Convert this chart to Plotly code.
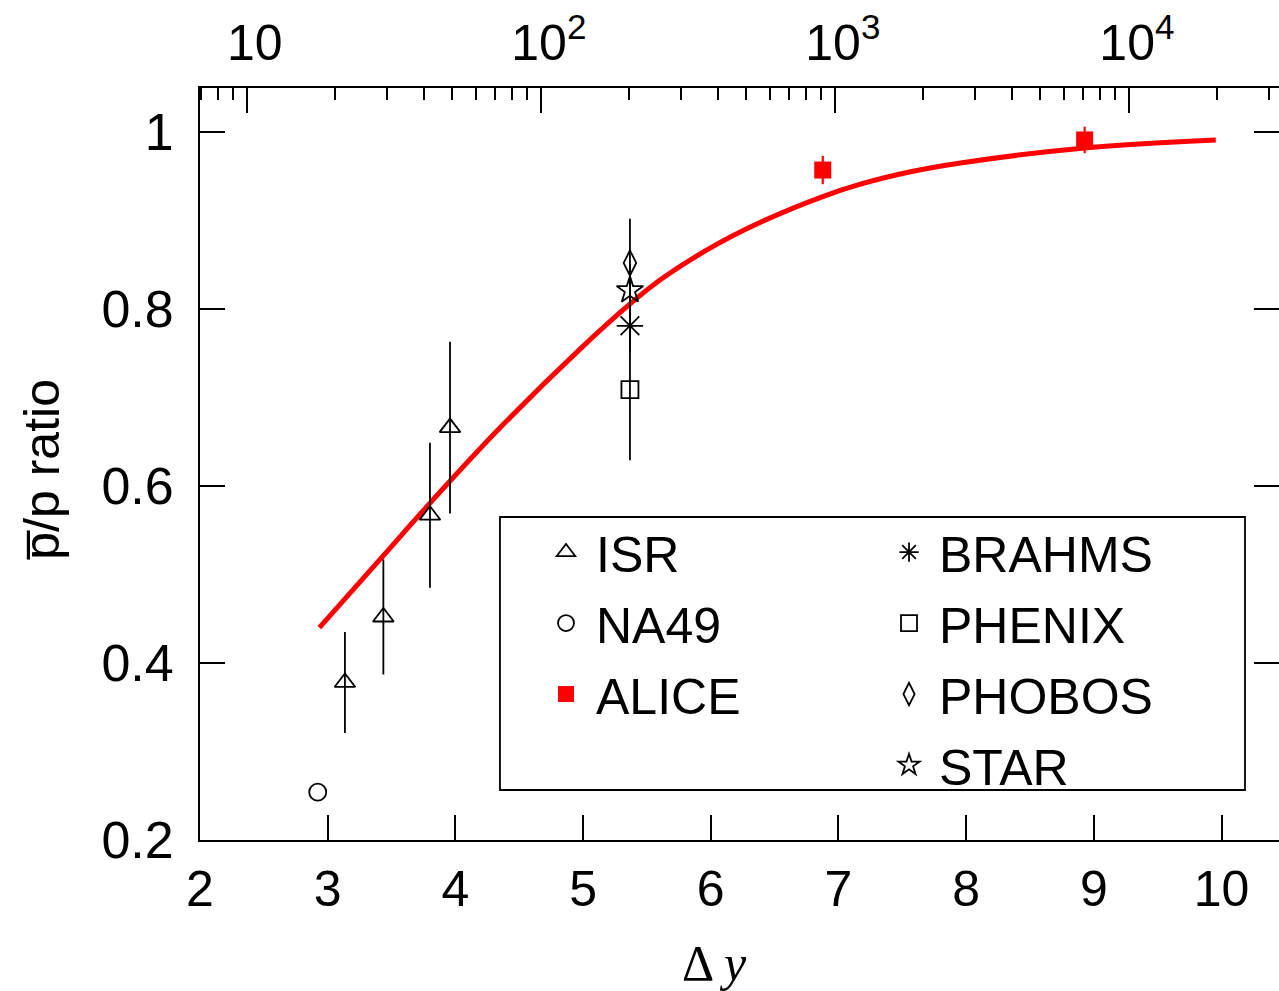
import math
import plotly.graph_objects as go

# ---- data -------------------------------------------------------------
PROTON_MASS = 0.938  # GeV, converts sqrt(s) to the beam rapidity interval

isr_dy = [3.135, 3.436, 3.801, 3.958]
isr_ratio = [0.378, 0.452, 0.567, 0.666]
isr_err = [0.057, 0.065, 0.082, 0.097]

na49_dy = [2.922]
na49_ratio = [0.254]

alice_dy = [6.877, 8.928]
alice_ratio = [0.957, 0.991]
alice_err = [0.016, 0.015]

rhic_dy = 5.367
brahms_ratio = [0.781]
brahms_err = [0.03]
phenix_ratio = [0.709]
phenix_err = [0.08]
phobos_ratio = [0.852]
phobos_err = [0.05]
star_ratio = [0.821]
star_err = [0.03]

fit_dy = [2.935, 3.434, 3.803, 4.351, 4.978, 5.370, 5.605, 5.997,
          6.389, 6.877, 7.172, 7.564, 7.956, 8.928, 9.955]
fit_ratio = [0.440, 0.521, 0.581, 0.666, 0.755, 0.806, 0.833, 0.869,
             0.898, 0.927, 0.941, 0.955, 0.965, 0.982, 0.991]

y_ticks = [0.2, 0.4, 0.6, 0.8, 1.0]
y_ticktext = ["0.2", "0.4", "0.6", "0.8", "1"]
x_ticks = [2, 3, 4, 5, 6, 7, 8, 9, 10]
sqrt_s_major = [10, 100, 1000, 10000]
sqrt_s_text = ["10", "10<sup>2</sup>", "10<sup>3</sup>", "10<sup>4</sup>"]
sqrt_s_minor = [7, 8, 9] + [m * 10 ** d for d in (1, 2, 3) for m in range(2, 10)] + [20000, 30000]

# ---- layout constants -------------------------------------------------
X_RANGE = [2.0, 10.45]
Y_RANGE = [0.2, 1.0497]
TOP_RANGE = [math.log10(PROTON_MASS) + v / math.log(10) for v in X_RANGE]

FONT = "Liberation Sans"
FS = 50
LW = 1.8

fig = go.Figure()

# fit curve
fig.add_trace(go.Scatter(
    x=fit_dy, y=fit_ratio, mode="lines",
    line=dict(color="#ff0000", width=5, shape="spline", smoothing=1.0),
    showlegend=False, hoverinfo="skip"))


def err(vals, color="black", width=LW):
    return dict(type="data", array=vals, visible=True, color=color, thickness=width, width=0)


def open_marker(symbol, size):
    return dict(symbol=symbol, size=size, color="black", line=dict(color="black", width=LW))


def entry(**kw):
    return go.Scatter(mode="markers", legendgroup=kw["name"], **kw)


fig.add_trace(entry(x=isr_dy, y=isr_ratio, name="ISR", error_y=err(isr_err),
                    marker=open_marker("triangle-up-open", 18), legend="legend"))
fig.add_trace(entry(x=na49_dy, y=na49_ratio, name="NA49",
                    marker=open_marker("circle-open", 17), legend="legend"))
fig.add_trace(entry(x=alice_dy, y=alice_ratio, name="ALICE",
                    error_y=err(alice_err, color="#ff0000", width=2.2),
                    marker=dict(symbol="square", size=17, color="#ff0000"), legend="legend"))

fig.add_trace(entry(x=[rhic_dy], y=brahms_ratio, name="BRAHMS", error_y=err(brahms_err),
                    marker=open_marker("asterisk-open", 22), legend="legend2"))
fig.add_trace(entry(x=[rhic_dy], y=phenix_ratio, name="PHENIX", error_y=err(phenix_err),
                    marker=open_marker("square-open", 17), legend="legend2"))
fig.add_trace(entry(x=[rhic_dy], y=phobos_ratio, name="PHOBOS", error_y=err(phobos_err),
                    marker=open_marker("diamond-tall-open", 18), legend="legend2"))
fig.add_trace(entry(x=[rhic_dy], y=star_ratio, name="STAR", error_y=err(star_err),
                    marker=open_marker("star-open", 20), legend="legend2"))

# empty trace that brings the sqrt(s) axis on top and the mirrored right axis into the figure
fig.add_trace(go.Scatter(x=sqrt_s_major, y=[None] * len(sqrt_s_major), xaxis="x2", yaxis="y2",
                         mode="markers", showlegend=False, hoverinfo="skip"))

legend_common = dict(
    orientation="v", font=dict(family=FONT, size=FS, color="black"),
    bgcolor="rgba(0,0,0,0)", borderwidth=0, itemwidth=50, itemsizing="trace",
    tracegroupgap=3, xanchor="left", yanchor="top", traceorder="grouped")

fig.update_layout(
    width=1279, height=991,
    margin=dict(l=200, r=0, t=88, b=151),
    paper_bgcolor="white", plot_bgcolor="white",
    font=dict(family=FONT, size=FS, color="black"),
    legend=dict(x=0.3114, y=0.4348, **legend_common),
    legend2=dict(x=0.6293, y=0.4348, **legend_common),
    xaxis=dict(
        range=X_RANGE, tickvals=x_ticks, ticks="inside", ticklen=25, tickwidth=LW,
        tickcolor="black", showline=True, linecolor="black", linewidth=LW,
        showgrid=False, zeroline=False, ticklabelstandoff=4,
        tickfont=dict(family=FONT, size=FS)),
    xaxis2=dict(
        type="log", range=TOP_RANGE, overlaying="x", anchor="y", side="top",
        tickvals=sqrt_s_major, ticktext=sqrt_s_text, ticks="inside", ticklen=25,
        tickwidth=LW, tickcolor="black", showline=True, linecolor="black",
        linewidth=LW, showgrid=False, zeroline=False, ticklabelstandoff=6,
        ticklabelshift=8, tickfont=dict(family=FONT, size=FS),
        minor=dict(tickmode="array", tickvals=sqrt_s_minor, ticks="inside",
                   ticklen=12, tickwidth=LW, tickcolor="black", showgrid=False)),
    yaxis=dict(
        range=Y_RANGE, tickvals=y_ticks, ticktext=y_ticktext, ticks="inside",
        ticklen=25, tickwidth=LW, tickcolor="black", showline=True,
        linecolor="black", linewidth=LW, showgrid=False, zeroline=False,
        ticklabelstandoff=14, tickfont=dict(family=FONT, size=52)),
    yaxis2=dict(
        range=Y_RANGE, overlaying="y", anchor="x2", side="right", tickvals=y_ticks,
        ticks="inside", ticklen=25, tickwidth=LW, tickcolor="black",
        showticklabels=False, showline=False, showgrid=False, zeroline=False),
    shapes=[dict(type="rect", xref="paper", yref="paper", x0=0.278, x1=0.9685,
                 y0=0.0665, y1=0.4295, line=dict(color="black", width=LW))],
    annotations=[
        dict(text="\u0394 <i>y</i>", xref="paper", yref="paper", x=0.477, y=-0.163,
             xanchor="center", yanchor="middle", showarrow=False,
             font=dict(family="Liberation Serif", size=50, color="black")),
        dict(text="p\u0305/p ratio", xref="paper", yref="paper", x=-0.1464, y=0.492,
             xanchor="center", yanchor="middle", textangle=-90, showarrow=False,
             font=dict(family=FONT, size=FS, color="black")),
    ],
)

fig.write_html("out.html")
